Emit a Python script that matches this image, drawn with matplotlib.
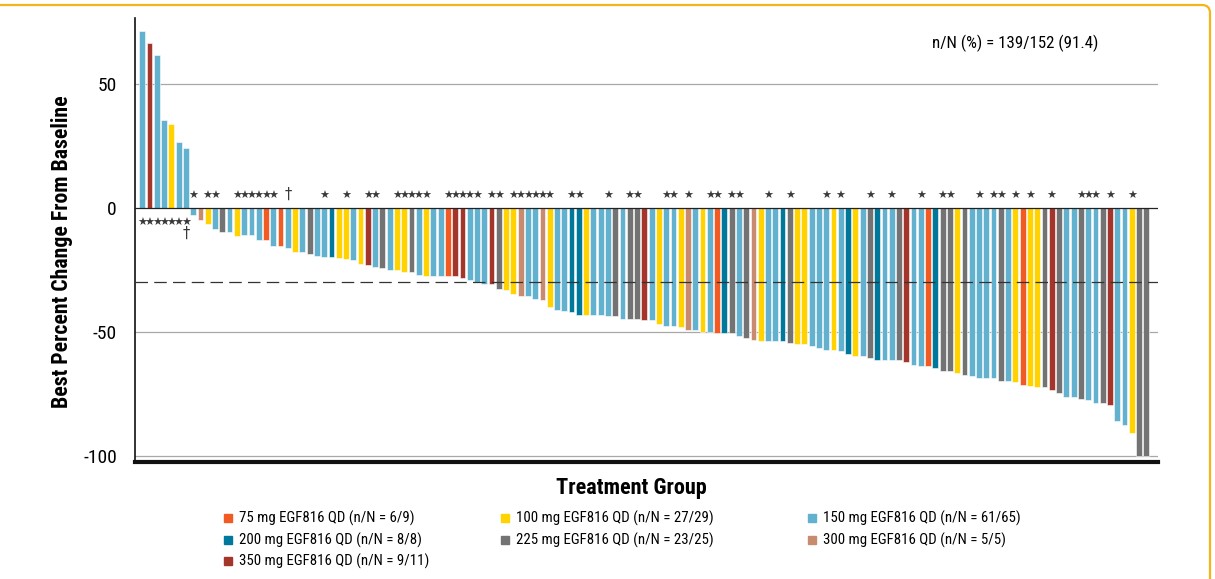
import matplotlib
matplotlib.use("Agg")
import matplotlib.pyplot as plt
from matplotlib.patches import Rectangle, FancyBboxPatch
from matplotlib import font_manager
import numpy as np

# ---------------- data ----------------
groups = ["75 mg EGF816 QD (n/N = 6/9)", "100 mg EGF816 QD (n/N = 27/29)",
          "150 mg EGF816 QD (n/N = 61/65)", "200 mg EGF816 QD (n/N = 8/8)",
          "225 mg EGF816 QD (n/N = 23/25)", "300 mg EGF816 QD (n/N = 5/5)",
          "350 mg EGF816 QD (n/N = 9/11)"]
group_keys = ["75", "100", "150", "200", "225", "300", "350"]
group_colors = ["#F15A22", "#FFD200", "#62B2CF", "#00789C", "#737373", "#C98B70", "#A3352A"]

bar_groups = ["150", "350", "150", "150", "100", "150", "150", "150", "300", "100",
              "150", "225", "150", "100", "150", "150", "150", "75", "150", "75",
              "150", "100", "150", "225", "150", "150", "200", "100", "100", "150",
              "100", "350", "150", "225", "150", "100", "100", "225", "150", "100",
              "150", "150", "75", "350", "350", "150", "150", "150", "350", "225",
              "100", "100", "300", "150", "150", "300", "100", "150", "150", "200",
              "200", "100", "150", "150", "150", "225", "150", "225", "225", "350",
              "150", "100", "150", "150", "100", "300", "150", "100", "150", "75",
              "200", "225", "150", "225", "300", "100", "150", "150", "200", "225",
              "100", "100", "150", "150", "150", "100", "150", "200", "100", "150",
              "225", "200", "150", "150", "225", "350", "150", "150", "75", "200",
              "225", "225", "100", "225", "150", "150", "150", "150", "225", "150",
              "100", "75", "100", "100", "225", "350", "225", "150", "150", "225",
              "150", "150", "225", "350", "150", "150", "100", "225", "225"]
bar_values = [71.4, 66.4, 61.7, 35.5, 33.7, 26.6, 24.2, -2.9, -5.0, -6.6,
              -8.3, -9.8, -9.8, -11.2, -11.0, -11.0, -12.8, -12.8, -15.5, -15.5,
              -16.0, -17.6, -17.6, -18.4, -19.4, -19.9, -19.9, -20.3, -20.5, -21.0,
              -22.6, -22.8, -23.7, -24.3, -25.0, -25.0, -25.8, -25.8, -26.9, -27.5,
              -27.5, -27.5, -27.5, -27.5, -28.4, -29.2, -29.8, -30.8, -30.8, -32.5,
              -33.0, -34.7, -35.5, -35.5, -36.7, -37.1, -39.9, -40.9, -41.5, -42.0,
              -43.3, -43.3, -43.3, -43.3, -43.5, -43.7, -44.8, -44.8, -44.8, -45.3,
              -45.3, -46.9, -47.4, -47.4, -48.1, -49.2, -49.2, -49.9, -49.9, -50.5,
              -50.5, -50.5, -51.7, -52.3, -53.1, -53.5, -53.5, -53.5, -53.5, -54.2,
              -54.7, -54.7, -55.6, -56.3, -57.0, -57.0, -57.5, -58.9, -59.5, -59.5,
              -60.3, -61.3, -61.3, -61.3, -61.3, -62.2, -63.4, -63.8, -63.8, -64.5,
              -65.6, -65.6, -66.3, -67.2, -67.7, -68.4, -68.5, -68.5, -69.5, -69.5,
              -70.2, -71.1, -71.8, -72.2, -72.2, -73.5, -74.5, -76.1, -76.1, -76.9,
              -77.5, -78.4, -78.4, -79.3, -85.6, -87.6, -90.6, -100.0, -100.0]
# bars (1-based) with a star above the zero line
star_bars = [8, 10, 11, 14, 15, 16, 17, 18, 19, 26, 29, 32, 33, 36, 37, 38, 39, 40,
             43, 44, 45, 46, 47, 49, 50, 52, 53, 54, 55, 56, 57, 60, 61, 65, 68, 69,
             73, 74, 76, 79, 80, 82, 83, 87, 90, 95, 97, 101, 104, 108, 111, 112,
             116, 118, 119, 121, 123, 126, 130, 131, 132, 134, 137]
star_below_bars = [1, 2, 3, 4, 5, 6, 7]
dagger_above_bars = [21]
dagger_below_bars = [7]
yticks = [50, 0, -50, -100]
annotation = "n/N (%) = 139/152 (91.4)"
ylabel = "Best Percent Change From Baseline"
xlabel = "Treatment Group"

# ---------------- fonts ----------------
available = {f.name for f in font_manager.fontManager.ttflist}
cands = ["Roboto Condensed", "DejaVu Sans Condensed", "Liberation Sans Narrow",
         "Open Sans Condensed", "Liberation Sans"]
base = next((c for c in cands if c in available), "DejaVu Sans")
narrow = base != "Liberation Sans"
plt.rcParams["font.family"] = [base, "DejaVu Sans"]
k = 1.0 if narrow else 0.82  # shrink if only a normal-width font exists

# ---------------- plot ----------------
W, H = 1215, 579
fig = plt.figure(figsize=(W / 100, H / 100), dpi=100)

ax = fig.add_axes([135 / W, (H - 462) / H, (1158 - 135) / W, (462 - 18) / H])
n = len(bar_values)
x = np.arange(1, n + 1)
cmap = dict(zip(group_keys, group_colors))
cols = [cmap[g] for g in bar_groups]
ax.bar(x, bar_values, width=0.8, color=cols, edgecolor="white", linewidth=0.4, zorder=3)

ax.set_xlim(0.0, n + 1.6)
ax.set_ylim(-102.3, 76.5)
for v in [50, -50, -100]:
    ax.axhline(v, color="#a8a8a8", lw=0.9, zorder=1)
ax.axhline(0, color="#222222", lw=0.9, zorder=4)
ax.axhline(-30, color="#333333", lw=0.9, ls=(0, (10, 5)), zorder=4)

for b in star_bars:
    ax.text(b, 4.8, "★", ha="center", va="center", fontsize=8,
            color="#3a3a3a", family=["DejaVu Sans"], zorder=5)
for b in star_below_bars:
    ax.text(b, -5.9, "★", ha="center", va="center", fontsize=8,
            color="#3a3a3a", family=["DejaVu Sans"], zorder=5)
for b in dagger_above_bars:
    ax.text(b, 5.6, "†", ha="center", va="center", fontsize=10.5, color="#3a3a3a",
            family=["DejaVu Sans"], zorder=5)
for b in dagger_below_bars:
    ax.text(b, -10.3, "†", ha="center", va="center", fontsize=10.5, color="#3a3a3a",
            family=["DejaVu Sans"], zorder=5)

ax.set_yticks(yticks)
ax.set_yticklabels([str(t) for t in yticks], fontsize=14 * k)
ax.tick_params(axis="y", length=0, pad=13)
ax.set_xticks([])
for s in ["top", "right"]:
    ax.spines[s].set_visible(False)
ax.spines["left"].set_color("#111111")
ax.spines["left"].set_linewidth(1.2)
ax.spines["bottom"].set_color("#111111")
ax.spines["bottom"].set_linewidth(3.0)

fig.text(62 / W, 1 - 252 / H, ylabel, ha="center", va="center", rotation=90,
         fontsize=15.7 * k, fontweight="bold")
fig.text(631 / W, 1 - 488 / H, xlabel, ha="center", va="center",
         fontsize=16 * k, fontweight="bold")

fig.text(1015 / W, 1 - 43 / H, annotation, ha="center", va="center", fontsize=12.2 * k)

# legend (manual, 3 columns row-major)
col_x = [228, 505, 812]
row_y = [518, 540, 561]
for i, (lab, c) in enumerate(zip(groups, group_colors)):
    r, kk = divmod(i, 3)
    xp, yp = col_x[kk], row_y[r]
    fig.patches.append(Rectangle(((xp - 4) / W, 1 - (yp + 4) / H), 8 / W, 8 / H,
                                 transform=fig.transFigure, color=c))
    fig.text((xp + 11) / W, 1 - yp / H, lab, ha="left", va="center", fontsize=10.7 * k)

# orange frame (top and right)
frame = FancyBboxPatch((-1.0, -1.0), 1.0 + 1210 / 100, 1.0 + (H - 5) / 100,
                       boxstyle="round,pad=0,rounding_size=0.08",
                       transform=fig.dpi_scale_trans, facecolor="none",
                       edgecolor="#F6B41A", lw=1.6, clip_on=False)
fig.patches.append(frame)

fig.savefig("out.png", dpi=100)
